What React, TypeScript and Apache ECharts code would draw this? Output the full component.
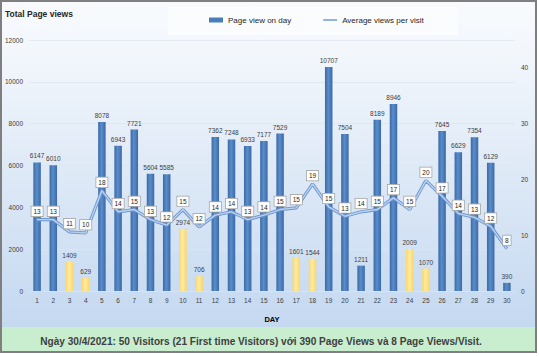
import React, { useEffect, useRef } from "react";
import * as echarts from "echarts";

const days = ["1","2","3","4","5","6","7","8","9","10","11","12","13","14","15","16","17","18","19","20","21","22","23","24","25","26","27","28","29","30"];
const pageViews = [6147, 6010, 1409, 629, 8078, 6943, 7721, 5604, 5585, 2974, 706, 7362, 7248, 6933, 7177, 7529, 1601, 1544, 10707, 7504, 1211, 8189, 8946, 2009, 1070, 7645, 6629, 7354, 6129, 390];
const avgViews = [12.8, 12.8, 10.6, 10.4, 18.0, 14.2, 14.6, 12.8, 11.8, 14.6, 11.5, 13.6, 14.2, 12.8, 13.6, 14.6, 14.9, 19.2, 15.1, 13.4, 14.2, 14.6, 16.7, 14.6, 19.8, 17.0, 13.9, 13.2, 11.6, 7.6];
const lowDays = ["3", "4", "10", "11", "17", "18", "24", "25"];
const leftTicks = { min: 0, max: 12000, interval: 2000 };
const rightTicks = { min: 0, max: 45, interval: 10 };

const titleText = "Total Page views";
const barName = "Page view on day";
const lineName = "Average views per visit";
const footerText = "Ngày 30/4/2021: 50 Visitors (21 First time Visitors) với 390 Page Views và 8 Page Views/Visit.";

const FONT = '"Liberation Sans", Arial, sans-serif';

export default function App() {
  const ref = useRef<HTMLDivElement>(null);
  useEffect(() => {
    if (!ref.current) return;
    const chart = echarts.init(ref.current, null, { renderer: "svg" });
    const blue = new echarts.graphic.LinearGradient(0, 0, 1, 0, [
      { offset: 0, color: "#3a6aa6" },
      { offset: 0.45, color: "#5b8dcb" },
      { offset: 1, color: "#3a6aa6" },
    ]);
    const yellow = new echarts.graphic.LinearGradient(0, 0, 1, 0, [
      { offset: 0, color: "#f9d767" },
      { offset: 0.45, color: "#ffeaa3" },
      { offset: 1, color: "#f9d767" },
    ]);
    const barData = pageViews.map((v, i) => ({
      value: v,
      itemStyle: { color: lowDays.includes(days[i]) ? yellow : blue },
    }));
    chart.setOption({
      animation: false,
      textStyle: { fontFamily: FONT },
      title: {
        text: titleText,
        left: 5,
        top: 9,
        padding: 0,
        textStyle: { fontSize: 8.5, fontWeight: "bold", color: "#262626", fontFamily: FONT },
      },
      graphic: [
        {
          type: "rect",
          z: -10,
          silent: true,
          shape: { x: 1, y: 1, width: 535, height: 327 },
          style: {
            fill: new echarts.graphic.LinearGradient(0, 0, 0, 1, [
              { offset: 0, color: "#f8fafd" },
              { offset: 0.15, color: "#f3f7fc" },
              { offset: 1, color: "#c4d8f0" },
            ]),
          },
        },
        {
          type: "rect",
          z: -10,
          silent: true,
          shape: { x: 1, y: 327, width: 535, height: 25 },
          style: { fill: "#c8eecf" },
        },
        {
          type: "rect",
          z: -9,
          silent: true,
          shape: { x: 168, y: 7, width: 290, height: 28 },
          style: { fill: "rgba(255,255,255,0.55)" },
        },
        {
          type: "rect",
          z: 100,
          silent: true,
          shape: { x: 1, y: 1, width: 535, height: 351 },
          style: { fill: "none", stroke: "#7f7f7f", lineWidth: 2 },
        },
        {
          type: "text",
          z: 100,
          x: 261,
          y: 341,
          style: {
            text: footerText,
            align: "center",
            verticalAlign: "middle",
            font: `bold 10.1px ${FONT}`,
            fill: "#404040",
          },
        },
      ],
      legend: {
        left: 209,
        top: 16,
        padding: 0,
        itemGap: 32,
        itemWidth: 14,
        itemHeight: 5,
        textStyle: { fontSize: 8, color: "#262626", fontFamily: FONT },
        data: [
          { name: barName, icon: "rect", itemStyle: { color: "#4a7ebb" } },
          {
            name: lineName,
            icon: "path://M0,0 L14,0 L14,2 L0,2 Z",
            itemStyle: { color: "#8db4e2" },
          },
        ],
      },
      grid: { left: 29, right: 24, top: 40, bottom: 66, containLabel: false },
      xAxis: {
        type: "category",
        data: days,
        axisLine: { show: false },
        axisTick: { show: false },
        axisLabel: { fontSize: 6.5, color: "#404040", margin: 6 },
        name: "DAY",
        nameLocation: "middle",
        nameGap: 24,
        nameTextStyle: { fontSize: 7.5, fontWeight: "bold", color: "#000" },
      },
      yAxis: [
        {
          type: "value",
          min: leftTicks.min,
          max: leftTicks.max,
          interval: leftTicks.interval,
          axisLine: { show: false },
          axisTick: { show: false },
          axisLabel: {
            fontSize: 6.5,
            color: "#404040",
            margin: 6,
            formatter: (v: number) => String(v),
          },
          splitLine: { lineStyle: { color: "#dde5ef", width: 0.8 } },
        },
        {
          type: "value",
          min: rightTicks.min,
          max: rightTicks.max,
          interval: rightTicks.interval,
          axisLine: { show: false },
          axisTick: { show: false },
          axisLabel: { fontSize: 6.5, color: "#404040", margin: 6, showMaxLabel: false },
          splitLine: { show: false },
        },
      ],
      series: [
        {
          name: barName,
          type: "bar",
          data: barData,
          barWidth: 7.5,
          itemStyle: { color: "#4a7ebb" },
          label: {
            show: true,
            position: "top",
            distance: 3,
            fontSize: 6.5,
            color: "#404040",
          },
        },
        {
          name: lineName,
          type: "line",
          yAxisIndex: 1,
          data: avgViews,
          symbol: "circle",
          symbolSize: 1,
          itemStyle: { color: "#6d97cf" },
          lineStyle: { color: "#6d97cf", width: 3.2 },
          z: 3,
        },
        {
          type: "line",
          yAxisIndex: 1,
          data: avgViews,
          symbol: "none",
          silent: true,
          lineStyle: { color: "#b9d0ee", width: 1.4 },
          z: 4,
        },
        {
          type: "line",
          yAxisIndex: 1,
          data: avgViews,
          symbol: "circle",
          symbolSize: 1,
          silent: true,
          itemStyle: { color: "rgba(0,0,0,0)" },
          lineStyle: { opacity: 0 },
          z: 5,
          label: {
            show: true,
            position: "top",
            distance: 3,
            formatter: (p: any) => String(Math.round(p.value)),
            fontSize: 6.5,
            color: "#262626",
            backgroundColor: "#ffffff",
            borderColor: "#a6a6a6",
            borderWidth: 0.8,
            padding: [1.5, 2, 1, 2],
            lineHeight: 7,
          },
        },
      ],
    });
    return () => chart.dispose();
  }, []);
  return (
    <div
      ref={ref}
      style={{ position: "absolute", left: 0, top: 0, width: 539, height: 357 }}
    />
  );
}
